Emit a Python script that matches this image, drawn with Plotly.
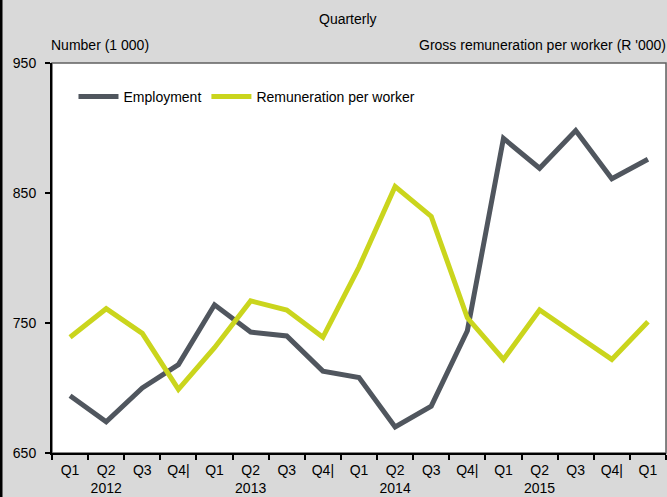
import plotly.graph_objects as go

quarters = ["Q1", "Q2", "Q3", "Q4|", "Q1", "Q2", "Q3", "Q4|", "Q1", "Q2", "Q3", "Q4|",
            "Q1", "Q2", "Q3", "Q4|", "Q1"]
years = ["", "2012", "", "", "", "2013", "", "", "", "2014", "", "", "", "2015", "", "", ""]
employment = [694, 674, 700, 718, 764, 743, 740, 713, 708, 670, 686, 744,
              892, 869, 898, 861, 876]
remuneration = [739, 761, 742, 699, 731, 767, 760, 739, 793, 855, 832, 754,
                722, 760, 741, 722, 751]

x = list(range(len(quarters)))
ticktext = [q + ("<br>" + y if y else "<br> ") for q, y in zip(quarters, years)]

FONT = "Liberation Sans, Arial, sans-serif"

fig = go.Figure()
fig.add_trace(go.Scatter(x=x, y=employment, mode="lines", name="Employment",
                         line=dict(color="#50565e", width=5)))
fig.add_trace(go.Scatter(x=x, y=remuneration, mode="lines", name="Remuneration per worker",
                         line=dict(color="#cad51d", width=5)))

fig.update_layout(
    width=667, height=497,
    margin=dict(l=52, r=1, t=63, b=44),
    paper_bgcolor="#d9d9d9",
    plot_bgcolor="white",
    font=dict(family=FONT, size=14, color="black"),
    showlegend=True,
    legend=dict(orientation="h", x=0.035, y=0.913, xanchor="left", yanchor="middle",
                bgcolor="rgba(0,0,0,0)", font=dict(size=14), itemwidth=40,
                tracegroupgap=0),
    xaxis=dict(range=[-0.5, 16.5], tickmode="array", tickvals=x, ticktext=ticktext,
               ticks="", showgrid=False, zeroline=False, showline=True,
               linecolor="black", linewidth=2, tickfont=dict(size=14),
               ticklabelstandoff=3,
               minor=dict(tickmode="linear", tick0=-0.5, dtick=1, ticks="outside",
                          ticklen=5, tickcolor="black", tickwidth=1.5, showgrid=False)),
    yaxis=dict(range=[650, 950], tickmode="array", tickvals=[650, 750, 850, 950],
               ticks="outside", ticklen=5, tickcolor="black", tickwidth=1.5,
               ticklabelstandoff=6,
               showgrid=False, zeroline=False, showline=True, linecolor="black",
               linewidth=2, tickfont=dict(size=14)),
    shapes=[
        dict(type="rect", xref="paper", yref="paper", x0=0, x1=1, y0=0, y1=1,
             line=dict(color="#606060", width=1.5), layer="below"),
        dict(type="line", xref="paper", yref="paper", x0=-51/614, x1=-51/614,
             y0=-44/390, y1=1 + 63/390, line=dict(color="black", width=3)),
    ],
    annotations=[
        dict(text="Quarterly", xref="paper", yref="paper", x=(348 - 52) / 614,
             y=1 + 44 / 390, showarrow=False, xanchor="center", yanchor="middle",
             font=dict(size=14)),
        dict(text="Number (1 000)", xref="paper", yref="paper", x=0,
             y=1 + 18 / 390, showarrow=False, xanchor="left", yanchor="middle",
             xshift=-3, font=dict(size=14)),
        dict(text="Gross remuneration per worker (R '000)", xref="paper", yref="paper",
             x=1, y=1 + 18 / 390, showarrow=False, xanchor="right", yanchor="middle",
             xshift=2, font=dict(size=14)),
    ],
)

fig.write_html("out.html", config={"displayModeBar": False},
               post_script="document.body.style.margin='0';")
